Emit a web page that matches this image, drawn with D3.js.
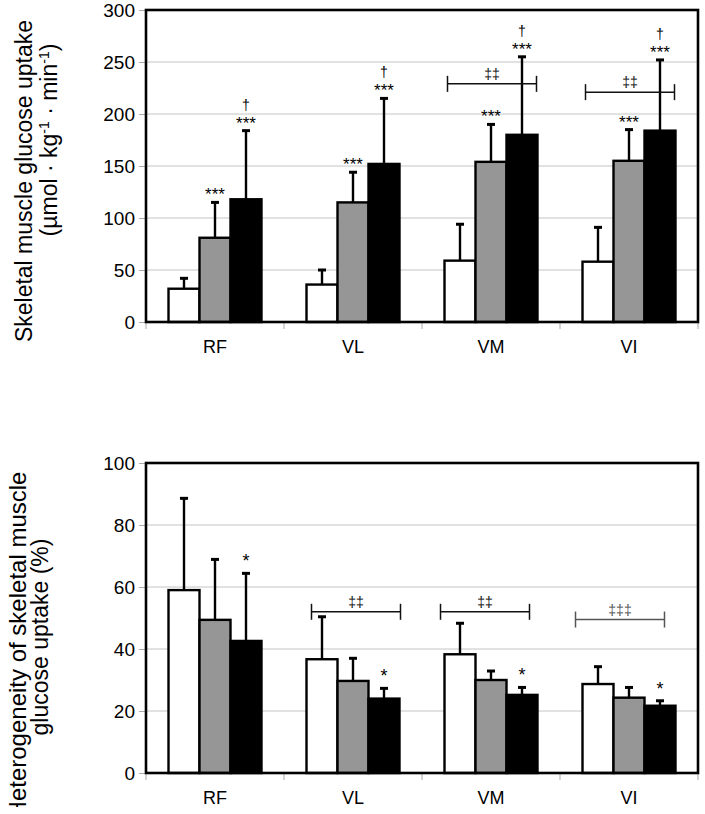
<!DOCTYPE html>
<html>
<head>
<meta charset="utf-8">
<script src="https://cdn.jsdelivr.net/npm/d3@7"></script>
<style>
  html, body { margin: 0; padding: 0; background: #fff; }
  text { font-family: Arial, "Liberation Sans", sans-serif; }
</style>
</head>
<body>
<svg id="chart" width="705" height="814"></svg>
<script>
// ---------- DATA ----------
const categories = ["RF", "VL", "VM", "VI"];
const seriesNames = ["white", "gray", "black"];

// Top panel: skeletal muscle glucose uptake (µmol·kg-1·min-1)
const uptakeWhite = [32, 36, 59, 58];
const uptakeGray = [81, 115, 154, 155];
const uptakeBlack = [118, 152, 180, 184];
const uptakeWhiteErr = [10, 14, 35, 33];
const uptakeGrayErr = [34, 29, 36, 30];
const uptakeBlackErr = [66, 63, 75, 68];
const uptakeTicks = [0, 50, 100, 150, 200, 250, 300];
// annotation marks above bars: [category, series, lines (bottom first)]
const uptakeMarks = [
  ["RF", "gray", ["***"]], ["RF", "black", ["***", "†"]],
  ["VL", "gray", ["***"]], ["VL", "black", ["***", "†"]],
  ["VM", "gray", ["***"]], ["VM", "black", ["***", "†"]],
  ["VI", "gray", ["***"]], ["VI", "black", ["***", "†"]]
];
// brackets: [category, label, value level]
const uptakeBrackets = [["VM", "‡‡", 229], ["VI", "‡‡", 221]];

// Bottom panel: heterogeneity (%)
const hetWhite = [59, 36.7, 38.3, 28.7];
const hetGray = [49.4, 29.7, 30, 24.3];
const hetBlack = [42.6, 24, 25.2, 21.7];
const hetWhiteErr = [29.6, 13.7, 10, 5.6];
const hetGrayErr = [19.5, 7.3, 2.9, 3.3];
const hetBlackErr = [21.8, 3.3, 2.4, 1.6];
const hetTicks = [0, 20, 40, 60, 80, 100];
const hetMarks = [
  ["RF", "black", ["*"]], ["VL", "black", ["*"]],
  ["VM", "black", ["*"]], ["VI", "black", ["*"]]
];
const hetBrackets = [["VL", "‡‡", 52], ["VM", "‡‡", 52], ["VI", "‡‡‡", 49.5]];

// ---------- DRAW ----------
const fills = { white: "#ffffff", gray: "#969696", black: "#000000" };
const svg = d3.select("#chart");
svg.append("rect").attr("width", 705).attr("height", 814).attr("fill", "#fff");

function panel(opts) {
  const { left, right, top, bottom, max, ticks, values, errs, marks, brackets,
          markOffset, markSize, markGap, bracketColors, bracketShift } = opts;
  const g = svg.append("g");
  const x = d3.scaleBand().domain(categories).range([left, right]).padding(0);
  const x1 = d3.scaleBand().domain(seriesNames).range([0, x.bandwidth()]).paddingInner(0).paddingOuter(0.726);
  const y = d3.scaleLinear().domain([0, max]).range([bottom, top]);

  // gridlines
  g.append("g").selectAll("line").data(ticks.filter(t => t > 0 && t < max)).join("line")
    .attr("x1", left).attr("x2", right)
    .attr("y1", d => y(d)).attr("y2", d => y(d))
    .attr("stroke", "#c4c4c4").attr("stroke-width", 1);

  // y axis
  const yAxis = g.append("g").attr("transform", `translate(${left},0)`)
    .call(d3.axisLeft(y).tickValues(ticks).tickSize(7).tickPadding(4));
  yAxis.select(".domain").remove();
  yAxis.selectAll(".tick line").attr("stroke", "#aaa");
  yAxis.selectAll(".tick text").attr("font-size", 19).attr("fill", "#000")
    .attr("font-family", "Arial, 'Liberation Sans', sans-serif");

  // x axis ticks at band boundaries
  const bounds = categories.map(c => x(c)).concat([right]);
  g.append("g").selectAll("line").data(bounds).join("line")
    .attr("x1", d => d).attr("x2", d => d)
    .attr("y1", bottom).attr("y2", bottom + 7)
    .attr("stroke", "#aaa").attr("stroke-width", 1);
  g.append("g").selectAll("text").data(categories).join("text")
    .attr("x", d => x(d) + x.bandwidth() / 2)
    .attr("y", bottom + 31)
    .attr("text-anchor", "middle").attr("font-size", 18)
    .text(d => d);

  // bars
  const rows = [];
  categories.forEach((c, i) => seriesNames.forEach((s, j) => {
    rows.push({ c, s, v: values[j][i], e: errs[j][i] });
  }));
  const bx = d => x(d.c) + x1(d.s);
  // error bars (drawn first so bars cover their base)
  const eg = g.append("g");
  eg.selectAll("line.stem").data(rows).join("line").attr("class", "stem")
    .attr("x1", d => bx(d) + x1.bandwidth() / 2).attr("x2", d => bx(d) + x1.bandwidth() / 2)
    .attr("y1", d => y(d.v)).attr("y2", d => y(d.v + d.e))
    .attr("stroke", "#000").attr("stroke-width", 2.4);
  eg.selectAll("line.cap").data(rows).join("line").attr("class", "cap")
    .attr("x1", d => bx(d) + x1.bandwidth() / 2 - 4).attr("x2", d => bx(d) + x1.bandwidth() / 2 + 4)
    .attr("y1", d => y(d.v + d.e)).attr("y2", d => y(d.v + d.e))
    .attr("stroke", "#000").attr("stroke-width", 3);

  g.append("g").selectAll("rect").data(rows).join("rect")
    .attr("x", d => bx(d)).attr("width", x1.bandwidth())
    .attr("y", d => y(d.v)).attr("height", d => y(0) - y(d.v))
    .attr("fill", d => fills[d.s]).attr("stroke", "#000").attr("stroke-width", 2.4);

  // plot border
  g.append("rect").attr("x", left).attr("y", top).attr("width", right - left).attr("height", bottom - top)
    .attr("fill", "none").attr("stroke", "#000").attr("stroke-width", 2.6);

  // significance marks
  marks.forEach(([c, s, lines]) => {
    const row = rows.find(r => r.c === c && r.s === s);
    const cx = bx(row) + x1.bandwidth() / 2;
    const base = y(row.v + row.e) - markOffset;
    lines.forEach((t, k) => {
      g.append("text").attr("x", cx).attr("y", base - k * markGap)
        .attr("text-anchor", "middle").attr("fill", "#000")
        .attr("font-size", t === "†" ? 14 : markSize).text(t);
    });
  });

  // brackets
  brackets.forEach(([c, label, lvl], k) => {
    const sh = bracketShift[k];
    const x0 = x(c) + x1("white") + 3 + sh;
    const xe = x(c) + x1("black") + x1.bandwidth() - 1 + sh;
    const yy = y(lvl);
    const col = bracketColors[k];
    const bg = g.append("g").attr("stroke", col).attr("stroke-width", 1.5);
    bg.append("line").attr("x1", x0).attr("x2", xe).attr("y1", yy).attr("y2", yy);
    bg.append("line").attr("x1", x0).attr("x2", x0).attr("y1", yy - 8).attr("y2", yy + 8);
    bg.append("line").attr("x1", xe).attr("x2", xe).attr("y1", yy - 8).attr("y2", yy + 8);
    g.append("text").attr("x", (x0 + xe) / 2).attr("y", yy - 5)
      .attr("text-anchor", "middle").attr("font-size", 14).attr("fill", col).text(label);
  });
}

panel({
  left: 146, right: 698, top: 10, bottom: 322, max: 300, ticks: uptakeTicks,
  values: [uptakeWhite, uptakeGray, uptakeBlack],
  errs: [uptakeWhiteErr, uptakeGrayErr, uptakeBlackErr],
  marks: uptakeMarks, brackets: uptakeBrackets, markOffset: 2, markSize: 17, markGap: 19,
  bracketColors: ["#111", "#111"], bracketShift: [0, 0]
});
panel({
  left: 146, right: 698, top: 463, bottom: 773, max: 100, ticks: hetTicks,
  values: [hetWhite, hetGray, hetBlack],
  errs: [hetWhiteErr, hetGrayErr, hetBlackErr],
  marks: hetMarks, brackets: hetBrackets, markOffset: 6, markSize: 18, markGap: 19,
  bracketColors: ["#111", "#111", "#555"], bracketShift: [2, -7, -10]
});

// axis titles
function vtext(parent, xb, yc, size) {
  return parent.append("text").attr("transform", `translate(${xb},${yc}) rotate(-90)`)
    .attr("text-anchor", "middle").attr("font-size", size).attr("fill", "#000");
}
vtext(svg, 32, 181, 23).text("Skeletal muscle glucose uptake");
const t2 = vtext(svg, 57, 140, 23);
t2.append("tspan").text("(µmol · kg");
t2.append("tspan").attr("font-size", 14).attr("dy", -8).text("-1");
t2.append("tspan").attr("dy", 8).text(" · min");
t2.append("tspan").attr("font-size", 14).attr("dy", -8).text("-1");
t2.append("tspan").attr("dy", 8).text(")");

svg.append("clipPath").attr("id", "titleClip")
  .append("rect").attr("x", 0).attr("y", 440).attr("width", 40).attr("height", 367);
const clipG = svg.append("g").attr("clip-path", "url(#titleClip)");
vtext(clipG, 26, 645, 24).text("Heterogeneity of skeletal muscle");
vtext(svg, 48, 637, 23).text("glucose uptake (%)");
</script>
</body>
</html>
